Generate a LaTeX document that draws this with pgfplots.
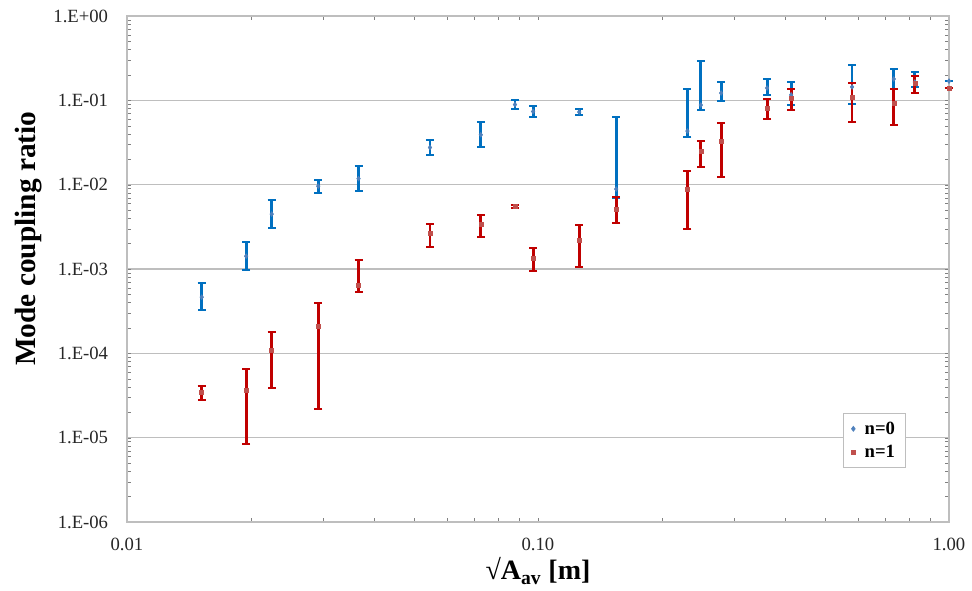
\documentclass[border=0pt]{standalone}
\usepackage{fontspec}
\setmainfont{Liberation Serif}
\usepackage{pgfplots}
\usepackage{pgfplotstable}
\pgfplotsset{compat=1.18}
\definecolor{bbar}{RGB}{0,112,192}
\definecolor{bmark}{RGB}{79,129,189}
\definecolor{rbar}{RGB}{192,0,0}
\definecolor{rmark}{RGB}{192,80,77}
\definecolor{axgray}{RGB}{190,190,190}

\pgfplotstableread{
x y ep em
0.0152 4.64e-4 2.16e-4 1.39e-4
0.0195 1.42e-3 6.6e-4 4.5e-4
0.0225 4.48e-3 2.08e-3 1.42e-3
0.0292 9.6e-3 1.7e-3 1.65e-3
0.0366 0.0118 4.8e-3 3.41e-3
0.0546 0.0276 6.2e-3 5.1e-3
0.0726 0.039 0.0163 0.0111
0.0879 0.089 0.012 0.0102
0.0973 0.0737 0.0119 0.0103
0.126 0.0727 0.0061 0.0057
0.155 8.87e-3 0.0545 1.93e-3
0.231 0.0432 0.0928 0.0065
0.249 0.0879 0.205 0.0112
0.279 0.122 0.043 0.024
0.361 0.14 0.039 0.024
0.413 0.116 0.049 0.0281
0.581 0.144 0.118 0.0536
0.734 0.179 0.056 0.043
0.826 0.165 0.052 0.021
1.0 0.169 0 0
}\nzero

\pgfplotstableread{
x y ep em
0.0152 3.47e-5 0.61e-5 0.68e-5
0.0195 3.66e-5 2.84e-5 2.82e-5
0.0225 1.09e-4 0.69e-4 0.703e-4
0.0292 2.10e-4 1.84e-4 1.882e-4
0.0366 6.5e-4 6.3e-4 1.2e-4
0.0546 2.67e-3 0.74e-3 0.85e-3
0.0726 3.41e-3 0.95e-3 1.02e-3
0.0879 5.57e-3 0.23e-3 0.22e-3
0.0973 1.35e-3 0.42e-3 0.41e-3
0.126 2.2e-3 1.12e-3 1.15e-3
0.155 5.14e-3 1.99e-3 1.64e-3
0.231 8.87e-3 5.63e-3 5.9e-3
0.249 0.0251 0.0078 0.0089
0.279 0.0329 0.0209 0.0206
0.361 0.081 0.023 0.021
0.413 0.106 0.030 0.0293
0.581 0.109 0.051 0.0537
0.734 0.093 0.043 0.0421
0.826 0.160 0.034 0.038
1.0 0.140 0 0
}\none

\begin{document}
\begin{tikzpicture}
\path[use as bounding box] (-95.25pt,-51.75pt) rectangle (633.75pt,391.5pt);
\begin{axis}[
  scale only axis,
  width=616.5pt, height=379.5pt,
  xmode=log, ymode=log,
  xmin=0.01, xmax=1, ymin=1e-6, ymax=1,
  xtick={0.01,0.1,1}, xticklabels={0.01,0.10,1.00},
  ytick={1e-6,1e-5,1e-4,1e-3,1e-2,1e-1,1},
  yticklabels={1.E-06,1.E-05,1.E-04,1.E-03,1.E-02,1.E-01,1.E+00},
  minor tick num=0, minor xtick={}, minor ytick={},
  major tick length=0pt,
  ymajorgrids, major grid style={axgray, line width=0.9pt},
  axis line style={axgray, line width=0.9pt},
  tick label style={font=\fontsize{14}{16}\selectfont, text=black!85},
  yticklabel style={anchor=east, inner sep=0pt, xshift=-14pt},
  xticklabel style={anchor=north, inner sep=0pt, yshift=-12pt},
  ylabel={\textbf{Mode coupling ratio}},
  ylabel style={font=\fontsize{22}{24}\selectfont, at={(axis description cs:-0.120,0.56)}, rotate=0, anchor=center},
  xlabel={\textbf{√A\textsubscript{av} [m]}},
  xlabel style={font=\fontsize{21}{24}\selectfont, at={(axis description cs:0.5,-0.097)}, anchor=center},
  clip=false,
  legend style={at={(0.871,0.215)}, anchor=north west, draw=axgray, line width=0.6pt,
    font=\bfseries\fontsize{14}{17}\selectfont, cells={anchor=west},
    inner xsep=6pt, inner ysep=4pt, row sep=3pt,
    /tikz/column 1/.style={column sep=5pt}},
  legend cell align=left,
]
\addplot[only marks, mark=diamond*, mark size=1.8pt, color=bmark,
  error bars/.cd, y dir=both, y explicit,
  error bar style={color=bbar, line width=2.1pt},
  error mark options={color=bbar, line width=1.6pt, mark size=3pt, rotate=90}]
  table[x=x, y=y, y error plus=ep, y error minus=em]{\nzero};
\addlegendentry{n=0}
\addplot[only marks, mark=square*, mark size=1.5pt, color=rmark,
  error bars/.cd, y dir=both, y explicit,
  error bar style={color=rbar, line width=2.1pt},
  error mark options={color=rbar, line width=1.6pt, mark size=3pt, rotate=90}]
  table[x=x, y=y, y error plus=ep, y error minus=em]{\none};
\addlegendentry{n=1}
\end{axis}
\end{tikzpicture}
\end{document}
